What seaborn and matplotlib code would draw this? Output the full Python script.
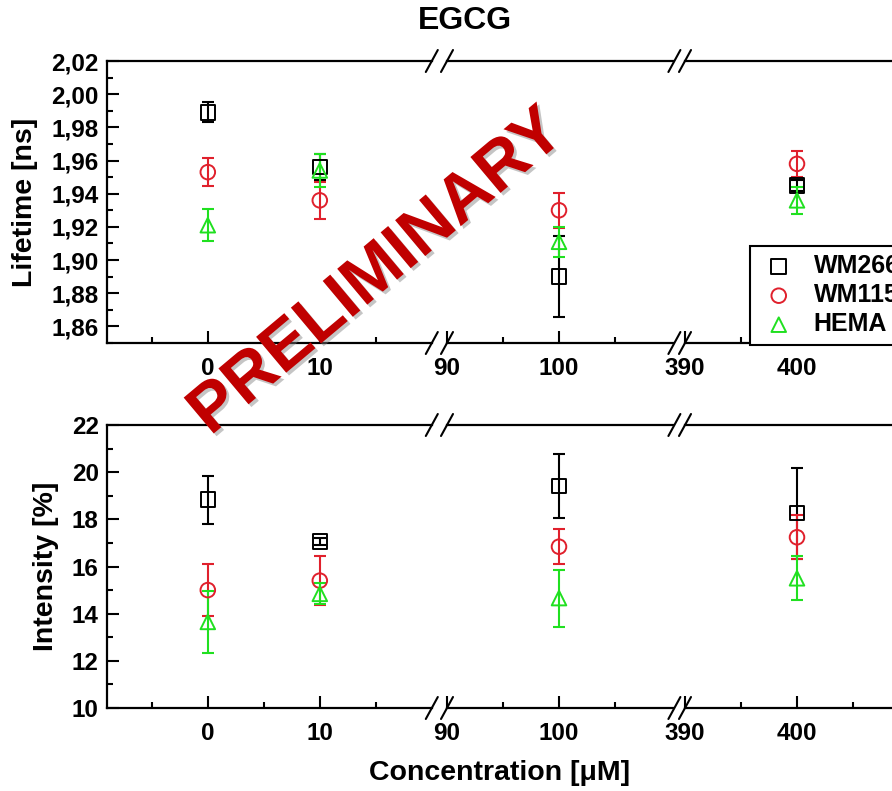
import matplotlib
matplotlib.use('Agg')
import matplotlib.pyplot as plt
import matplotlib.patheffects as pe
from matplotlib.lines import Line2D
from matplotlib.ticker import FuncFormatter, FixedLocator
import seaborn as sns

# data
conc = [0, 10, 100, 400]
series = ['WM266-4', 'WM115', 'HEMA']

life_wm266 = [1.989, 1.956, 1.890, 1.945]
life_wm266_err = [0.006, 0.008, 0.0245, 0.0035]
life_wm115 = [1.953, 1.936, 1.930, 1.958]
life_wm115_err = [0.0085, 0.011, 0.0105, 0.008]
life_hema = [1.921, 1.954, 1.911, 1.936]
life_hema_err = [0.0095, 0.010, 0.009, 0.008]

int_wm266 = [18.83, 17.06, 19.42, 18.26]
int_wm266_err = [1.02, 0.15, 1.36, 1.93]
int_wm115 = [15.0, 15.40, 16.84, 17.24]
int_wm115_err = [1.1, 1.05, 0.73, 0.94]
int_hema = [13.65, 14.84, 14.66, 15.50]
int_hema_err = [1.3, 0.45, 1.21, 0.94]

# broken x axis: three segments
seg_lims = [(-9, 20), (90, 110.2), (390, 412)]
seg_major = [[0, 10], [90, 100], [390, 400]]
seg_minor = [[-5, 5, 15], [95, 105], [395, 405]]

colors = ['#000000', '#e0202c', '#20e020']
markers = ['s', 'o', '^']

sns.set_theme(style='ticks')
plt.rcParams['font.family'] = ['Liberation Sans', 'DejaVu Sans']
plt.rcParams['font.weight'] = 'bold'
plt.rcParams['text.color'] = 'black'
plt.rcParams['axes.labelcolor'] = 'black'
plt.rcParams['xtick.color'] = 'black'
plt.rcParams['ytick.color'] = 'black'

W, H = 892, 791
fig = plt.figure(figsize=(W / 100, H / 100), dpi=100)


def fx(px):
    return px / W


def fy(py):
    return 1 - py / H


px_per_unit = 11.2
seg_left_px = [107, 447, 685]
rows = [
    dict(top=61, bot=343, ylim=(1.85, 2.02), major=[1.86 + 0.02 * i for i in range(9)],
         minor=[1.85 + 0.01 * i for i in range(18)], fmt=lambda v, p: f'{v:.2f}'.replace('.', ','),
         vals=[life_wm266, life_wm115, life_hema], errs=[life_wm266_err, life_wm115_err, life_hema_err]),
    dict(top=425, bot=708, ylim=(10, 22), major=list(range(10, 23, 2)),
         minor=list(range(10, 23)), fmt=lambda v, p: f'{v:.0f}',
         vals=[int_wm266, int_wm115, int_hema], errs=[int_wm266_err, int_wm115_err, int_hema_err]),
]

all_axes = []
for r, row in enumerate(rows):
    row_axes = []
    for s, (lo, hi) in enumerate(seg_lims):
        left = seg_left_px[s]
        width = (hi - lo) * px_per_unit
        ax = fig.add_axes([fx(left), fy(row['bot']), width / W, (row['bot'] - row['top']) / H])
        for k in range(3):
            ax.errorbar(conc, row['vals'][k], yerr=row['errs'][k], fmt='none',
                        ecolor=colors[k], elinewidth=1.5, capsize=4.5, capthick=1.5, zorder=2)
            sns.scatterplot(x=conc, y=row['vals'][k], marker=markers[k], s=110,
                            color=colors[k], facecolors='none', edgecolor=colors[k],
                            linewidth=1.4, ax=ax, label=series[k], zorder=3)
        ax.set_xlim(lo, hi)
        ax.set_ylim(*row['ylim'])
        ax.xaxis.set_major_locator(FixedLocator(seg_major[s]))
        ax.xaxis.set_minor_locator(FixedLocator(seg_minor[s]))
        ax.tick_params(axis='x', which='major', direction='in', length=8.5, width=1.5,
                       labelsize=17.5, pad=10)
        ax.tick_params(axis='x', which='minor', direction='in', length=4.5, width=1.5)
        for lab in ax.get_xticklabels():
            lab.set_fontweight('bold')
        for sp in ax.spines.values():
            sp.set_linewidth(1.6)
            sp.set_color('black')
        ax.spines['right'].set_visible(False)
        if s == 0:
            ax.yaxis.set_major_locator(FixedLocator(row['major']))
            ax.yaxis.set_minor_locator(FixedLocator(row['minor']))
            ax.yaxis.set_major_formatter(FuncFormatter(row['fmt']))
            ax.tick_params(axis='y', which='major', direction='in', length=8.5, width=1.5,
                           labelsize=17.5, pad=6)
            ax.tick_params(axis='y', which='minor', direction='in', length=4, width=1.5)
            for lab in ax.get_yticklabels():
                lab.set_fontweight('bold')
        else:
            ax.spines['left'].set_visible(False)
            ax.tick_params(axis='y', which='both', left=False, labelleft=False)
        ax.set_xlabel('')
        ax.set_ylabel('')
        if ax.get_legend() is not None:
            ax.get_legend().remove()
        row_axes.append(ax)
    all_axes.append(row_axes)

# break marks "//" on top and bottom spines
break_px = [431.8, 447, 674.4, 685]
for row in rows:
    for bx in break_px:
        for by in (row['top'], row['bot']):
            fig.add_artist(Line2D([fx(bx - 6), fx(bx + 6)], [fy(by + 11), fy(by - 11)],
                                  transform=fig.transFigure, color='black', lw=1.5))

# axis labels and title
fig.text(fx(465), fy(21), 'EGCG', ha='center', va='center', fontsize=23, fontweight='bold')
fig.text(fx(25), fy(202), 'Lifetime [ns]', rotation=90, ha='center', va='center',
         fontsize=20.5, fontweight='bold')
fig.text(fx(46), fy(566), 'Intensity [%]', rotation=90, ha='center', va='center',
         fontsize=20.5, fontweight='bold')
fig.text(fx(500), fy(773), 'Concentration [\u03bcM]', ha='center', va='center',
         fontsize=20.5, fontweight='bold')

# legend sitting on the top-right segment
handles, labels = all_axes[0][2].get_legend_handles_labels()
leg = fig.legend(handles[:3], labels[:3], loc='lower left',
                 bbox_to_anchor=(fx(750), fy(345)), bbox_transform=fig.transFigure,
                 prop={'size': 18, 'weight': 'bold'}, frameon=True, fancybox=False,
                 borderpad=0.35, handlelength=1.6, handletextpad=0.6, labelspacing=0.2,
                 scatterpoints=1, borderaxespad=0)
leg.get_frame().set_edgecolor('black')
leg.get_frame().set_linewidth(1.5)
leg.get_frame().set_alpha(1)

# watermark
fig.text(fx(377), fy(273), 'PRELIMINARY', rotation=40, ha='center', va='center',
         fontsize=49, fontweight='bold', color='#c00000', zorder=10,
         path_effects=[pe.withSimplePatchShadow(offset=(2, -2), shadow_rgbFace='gray', alpha=0.45)])

fig.savefig('out.png', dpi=100)
